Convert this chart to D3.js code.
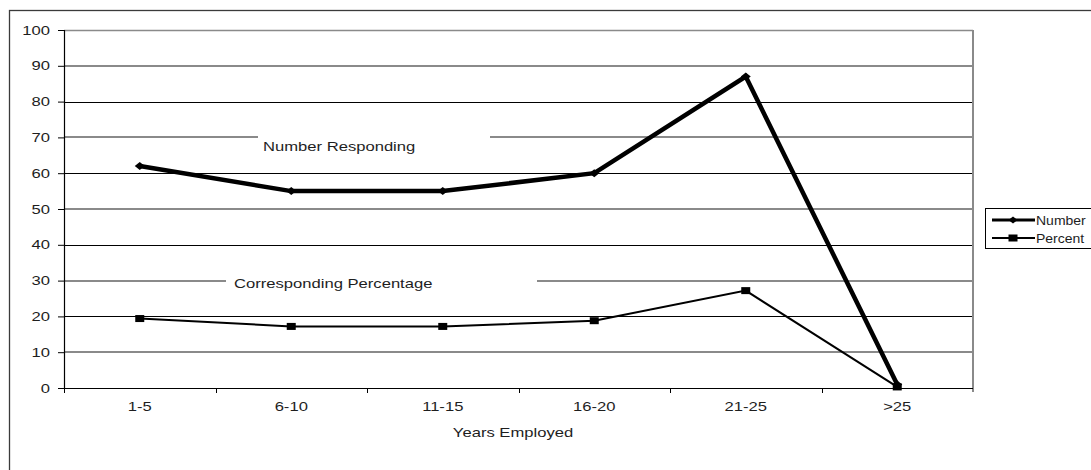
<!DOCTYPE html>
<html>
<head>
<meta charset="utf-8">
<script src="https://cdn.jsdelivr.net/npm/d3@7"></script>
<style>
  html, body { margin: 0; padding: 0; background: #fff; }
  svg { display: block; font-family: "Liberation Sans", Arial, sans-serif; }
</style>
</head>
<body>
<svg id="chart" width="1091" height="470"></svg>
<script>
// Data
const categories = ["1-5", "6-10", "11-15", "16-20", "21-25", ">25"];
const numberResponding = [62, 55, 55, 60, 87, 1];
const percentResponding = [19.4, 17.2, 17.2, 18.8, 27.2, 0.3];
const yTicks = [0, 10, 20, 30, 40, 50, 60, 70, 80, 90, 100];
const seriesNames = ["Number", "Percent"];
const xTitle = "Years Employed";
const annotations = [
  { text: "Number Responding", value: 70 },
  { text: "Corresponding Percentage", value: 30 }
];

// Layout
const W = 1091, H = 470;
const plot = { left: 64, top: 30, right: 973, bottom: 388 };
const FONT = 12.5;       // px
const SX = 1.33;         // horizontal stretch of the lettering
const INK = "#1e1e1e";

const svg = d3.select("#chart");

// Outer chart frame (runs past the right and bottom edges)
svg.append("rect")
  .attr("x", 9.5).attr("y", 10.5)
  .attr("width", W + 20).attr("height", H + 20)
  .attr("fill", "#fff").attr("stroke", "#3a3a3a").attr("stroke-width", 1.3);

const x = d3.scaleBand().domain(categories).range([plot.left, plot.right]);
const y = d3.scaleLinear().domain([0, 100]).range([plot.bottom, plot.top]);

// Text helper: stretched lettering placed at (px, py)
function label(parent, txt, px, py, anchor, sx) {
  return parent.append("text")
    .attr("transform", `translate(${px},${py}) scale(${sx || SX},1)`)
    .attr("text-anchor", anchor || "start")
    .attr("font-size", FONT)
    .attr("fill", INK)
    .text(txt);
}

// Horizontal gridlines: alternate grey/black
const grid = svg.append("g");
yTicks.filter(v => v > 0).forEach(v => {
  const odd = (v / 10) % 2 === 1;
  const yy = Math.round(y(v)) + (odd ? 0 : 0.5);
  grid.append("line")
    .attr("x1", plot.left).attr("x2", plot.right)
    .attr("y1", yy).attr("y2", yy)
    .attr("stroke", odd || v === 100 ? "#8a8a8a" : "#000")
    .attr("stroke-width", odd ? 2 : (v === 100 ? 1.5 : 1));
});

// Right edge of the plot area
svg.append("line")
  .attr("x1", plot.right).attr("x2", plot.right)
  .attr("y1", plot.top).attr("y2", plot.bottom + 4)
  .attr("stroke", "#8a8a8a").attr("stroke-width", 2);

// Annotation labels sitting on the gridlines
const notes = svg.append("g");
const noteGeom = {
  "Number Responding": { gapFrom: 258, gapTo: 490, tx: 263, base: 151 },
  "Corresponding Percentage": { gapFrom: 226, gapTo: 537, tx: 234, base: 288 }
};
annotations.forEach(a => {
  const g = noteGeom[a.text];
  notes.append("rect")
    .attr("x", g.gapFrom).attr("y", y(a.value) - 3)
    .attr("width", g.gapTo - g.gapFrom).attr("height", 16)
    .attr("fill", "#fff");
  label(notes, a.text, g.tx, g.base);
});

// Y axis (line + ticks), labels drawn separately
const yAxis = svg.append("g")
  .attr("transform", `translate(${plot.left},0)`)
  .call(d3.axisLeft(y).tickValues(yTicks).tickSize(6).tickFormat(""));
yAxis.select(".domain").attr("stroke", "#000").attr("stroke-width", 1.2);
yAxis.selectAll(".tick line").attr("stroke", "#000");
const yLabels = svg.append("g");
yTicks.forEach(v => label(yLabels, String(v), 50, y(v) + 4.5, "end"));

// X axis: tick marks at band boundaries, labels at band centres
const xAxis = svg.append("g")
  .attr("transform", `translate(0,${plot.bottom})`);
xAxis.append("line")
  .attr("x1", plot.left).attr("x2", plot.right)
  .attr("y1", 0.5).attr("y2", 0.5)
  .attr("stroke", "#000").attr("stroke-width", 1.2);
const bounds = categories.map(c => x(c)).concat([x(categories[categories.length - 1]) + x.bandwidth()]);
xAxis.selectAll("line.bound")
  .data(bounds.slice(0, -1))
  .join("line")
  .attr("class", "bound")
  .attr("x1", d => Math.round(d) + 0.5).attr("x2", d => Math.round(d) + 0.5)
  .attr("y1", 0).attr("y2", 5)
  .attr("stroke", "#000");
const cx = c => x(c) + x.bandwidth() / 2;
categories.forEach(c => label(svg, c, cx(c), 411, "middle"));

label(svg, xTitle, 513, 437, "middle");

// Series
const line = d3.line().x(d => cx(d.c)).y(d => y(d.v));
const numData = categories.map((c, i) => ({ c, v: numberResponding[i] }));
const pctData = categories.map((c, i) => ({ c, v: percentResponding[i] }));

svg.append("path").datum(pctData)
  .attr("d", line).attr("fill", "none")
  .attr("stroke", "#000").attr("stroke-width", 2).attr("stroke-linejoin", "miter");
svg.append("path").datum(numData)
  .attr("d", line).attr("fill", "none")
  .attr("stroke", "#000").attr("stroke-width", 4.5).attr("stroke-linejoin", "miter");

const diamond = (px, py, w, h) =>
  `M${px},${py - h / 2}L${px + w / 2},${py}L${px},${py + h / 2}L${px - w / 2},${py}Z`;

svg.append("g").selectAll("rect")
  .data(pctData).join("rect")
  .attr("x", d => cx(d.c) - 4.5).attr("y", d => y(d.v) - 3.5)
  .attr("width", 9).attr("height", 7).attr("fill", "#000");
svg.append("g").selectAll("path")
  .data(numData).join("path")
  .attr("d", d => diamond(cx(d.c), y(d.v), 10, 8)).attr("fill", "#000");

// Legend
const lg = svg.append("g");
lg.append("rect")
  .attr("x", 985.5).attr("y", 208.5).attr("width", 200).attr("height", 40)
  .attr("fill", "#fff").attr("stroke", "#000").attr("stroke-width", 1);
const rows = [
  { name: seriesNames[0], yy: 220, sw: 3, mark: "diamond" },
  { name: seriesNames[1], yy: 238, sw: 2, mark: "square" }
];
rows.forEach(r => {
  lg.append("line")
    .attr("x1", 992).attr("x2", 1035).attr("y1", r.yy).attr("y2", r.yy)
    .attr("stroke", "#000").attr("stroke-width", r.sw);
  if (r.mark === "diamond") {
    lg.append("path").attr("d", diamond(1013, r.yy, 9, 7)).attr("fill", "#000");
  } else {
    lg.append("rect").attr("x", 1008.5).attr("y", r.yy - 3.5)
      .attr("width", 9).attr("height", 7).attr("fill", "#000");
  }
  label(lg, r.name, 1036, r.yy + 4.5, "start", 1.12);
});
</script>
</body>
</html>
